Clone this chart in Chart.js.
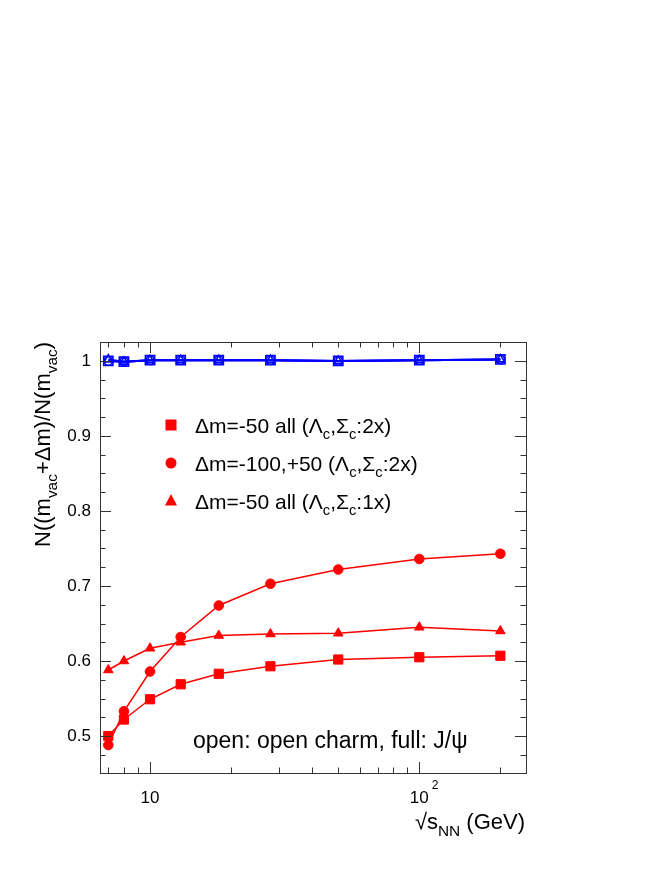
<!DOCTYPE html>
<html>
<head>
<meta charset="utf-8">
<script src="https://cdn.jsdelivr.net/npm/chart.js@4.4.1/dist/chart.umd.min.js"></script>
<style>
  html, body { margin: 0; padding: 0; background: #fff; }
  canvas { display: block; }
</style>
</head>
<body>
<canvas id="c" width="671" height="869"></canvas>
<script>
// beam energies (GeV)
const sqrtS = [7, 8, 10, 13, 18, 28, 50, 100, 200];

// J/psi (full markers, red)
const jpsiDm50 = [0.500, 0.522, 0.549, 0.569, 0.583, 0.593, 0.602, 0.605, 0.607];
const jpsiDm100 = [0.488, 0.533, 0.586, 0.632, 0.674, 0.703, 0.722, 0.736, 0.743];
const jpsiDm50x1 = [0.588, 0.600, 0.617, 0.625, 0.634, 0.636, 0.637, 0.645, 0.640];

// open charm (open markers, blue)
const openDm50 = [1.000, 0.999, 1.001, 1.001, 1.001, 1.001, 1.000, 1.001, 1.002];
const openDm100 = [1.000, 0.999, 1.001, 1.001, 1.001, 1.001, 1.000, 1.001, 1.002];
const openDm50x1 = [1.002, 0.999, 1.001, 1.001, 1.001, 1.001, 1.000, 1.001, 1.002];

const yTicks = [0.5, 0.6, 0.7, 0.8, 0.9, 1.0];
const xTicks = [10, 100];
const xMinor = [7, 8, 9, 20, 30, 40, 50, 60, 70, 80, 90, 200];

const FONT = "'Liberation Sans', Arial, Helvetica, sans-serif";
const RED = '#ff0000';
const BLUE = '#0000ff';

const pts = arr => arr.map((v, i) => ({ x: sqrtS[i], y: v }));

// text with sub/superscripts: parts = [[text, mode], ...]
function richWidth(ctx, parts, size) {
  let w = 0;
  parts.forEach(([t, m]) => {
    const s = m ? size * 0.7 : size;
    ctx.font = s + 'px ' + FONT;
    w += ctx.measureText(t).width;
  });
  return w;
}
function drawRich(ctx, parts, x, y, size) {
  parts.forEach(([t, m]) => {
    const s = m ? size * 0.7 : size;
    ctx.font = s + 'px ' + FONT;
    let dy = 0;
    if (m === 'sub') dy = size * 0.3;
    if (m === 'sup') dy = -size * 0.45;
    ctx.fillText(t, x, y + dy);
    x += ctx.measureText(t).width;
  });
}

const framePlugin = {
  id: 'frame',
  afterDraw(chart) {
    const ctx = chart.ctx;
    const a = chart.chartArea;
    const xs = chart.scales.x, ys = chart.scales.y;
    ctx.save();
    ctx.strokeStyle = '#333';
    ctx.lineWidth = 1;
    ctx.strokeRect(Math.round(a.left) + 0.5, Math.round(a.top) + 0.5,
      Math.round(a.right - a.left), Math.round(a.bottom - a.top));

    ctx.beginPath();
    // y ticks both sides
    for (let v = 0.45; v <= 1.0251; v += 0.025) {
      const val = Math.round(v * 1000) / 1000;
      if (val < ys.min || val > ys.max) continue;
      const py = Math.round(ys.getPixelForValue(val)) + 0.5;
      const major = yTicks.some(t => Math.abs(t - val) < 1e-6);
      const len = major ? 11 : 5.5;
      ctx.moveTo(a.left, py); ctx.lineTo(a.left + len, py);
      ctx.moveTo(a.right, py); ctx.lineTo(a.right - len, py);
    }
    // x ticks bottom and top
    xTicks.concat(xMinor).forEach(v => {
      const px = Math.round(xs.getPixelForValue(v)) + 0.5;
      const len = xTicks.includes(v) ? 11 : 5.5;
      ctx.moveTo(px, a.bottom); ctx.lineTo(px, a.bottom - len);
      ctx.moveTo(px, a.top); ctx.lineTo(px, a.top + len);
    });
    ctx.stroke();

    ctx.fillStyle = '#000';
    ctx.textBaseline = 'alphabetic';
    ctx.textAlign = 'left';
    // x tick labels
    xTicks.forEach(v => {
      const px = xs.getPixelForValue(v);
      ctx.font = '17px ' + FONT;
      if (v === 10) {
        ctx.textAlign = 'center';
        ctx.fillText('10', px, 803);
        ctx.textAlign = 'left';
      } else {
        const w = ctx.measureText('10').width;
        ctx.fillText('10', px - w / 2, 803);
        ctx.font = '12px ' + FONT;
        ctx.fillText('2', px + w / 2 + 3, 789);
      }
    });

    // x title
    const xt = [['\u221As', ''], ['NN', 'sub'], [' (GeV)', '']];
    const xw = richWidth(ctx, xt, 22);
    drawRich(ctx, xt, 525 - xw, 829, 22);

    // y title
    const yt = [['N((m', ''], ['vac', 'sub'], ['+\u0394m)/N(m', ''], ['vac', 'sub'], [')', '']];
    const yw = richWidth(ctx, yt, 22);
    ctx.save();
    ctx.translate(50, 342);
    ctx.rotate(-Math.PI / 2);
    drawRich(ctx, yt, -yw, 0, 22);
    ctx.restore();

    // legend
    const rows = [
      { style: 'rect', y: 425, parts: [['\u0394m=-50 all (\u039B', ''], ['c', 'sub'], [',\u03A3', ''], ['c', 'sub'], [':2x)', '']] },
      { style: 'circle', y: 463, parts: [['\u0394m=-100,+50 (\u039B', ''], ['c', 'sub'], [',\u03A3', ''], ['c', 'sub'], [':2x)', '']] },
      { style: 'triangle', y: 501, parts: [['\u0394m=-50 all (\u039B', ''], ['c', 'sub'], [',\u03A3', ''], ['c', 'sub'], [':1x)', '']] }
    ];
    rows.forEach(r => {
      ctx.fillStyle = RED;
      ctx.beginPath();
      if (r.style === 'rect') ctx.rect(171 - 5.5, r.y - 5.5, 11, 11);
      else if (r.style === 'circle') ctx.arc(171, r.y, 5.5, 0, Math.PI * 2);
      else { ctx.moveTo(171, r.y - 7); ctx.lineTo(177, r.y + 4.5); ctx.lineTo(165, r.y + 4.5); ctx.closePath(); }
      ctx.fill();
      ctx.fillStyle = '#000';
      drawRich(ctx, r.parts, 195, r.y + 8, 21);
    });

    // annotation
    ctx.font = '23px ' + FONT;
    ctx.fillText('open: open charm, full: J/\u03C8', 193, 748);
    ctx.restore();
  }
};

const ds = (data, style, color, radius, open, lw) => ({
  data: pts(data),
  showLine: true,
  borderColor: color,
  borderWidth: lw,
  pointStyle: style,
  pointRadius: radius,
  pointBorderColor: color,
  pointBackgroundColor: open ? 'rgba(0,0,0,0)' : color,
  pointBorderWidth: open ? 1.6 : 1,
  fill: false,
  tension: 0
});

new Chart(document.getElementById('c'), {
  type: 'scatter',
  data: {
    datasets: [
      ds(openDm50, 'rect', BLUE, 6.5, true, 2),
      ds(openDm100, 'circle', BLUE, 4.2, true, 2),
      ds(openDm50x1, 'triangle', BLUE, 4.8, true, 2),
      ds(jpsiDm50, 'rect', RED, 6.5, false, 1.5),
      ds(jpsiDm100, 'circle', RED, 4.8, false, 1.5),
      ds(jpsiDm50x1, 'triangle', RED, 5.5, false, 1.5)
    ]
  },
  options: {
    responsive: false,
    devicePixelRatio: 1,
    animation: false,
    events: [],
    layout: { padding: { left: 0, top: 342, right: 145, bottom: 0 } },
    plugins: { legend: { display: false }, tooltip: { enabled: false } },
    scales: {
      x: {
        type: 'logarithmic',
        min: 6.52,
        max: 249,
        grid: { display: false },
        border: { display: false },
        ticks: { display: false },
        afterFit: s => { s.height = 96; }
      },
      y: {
        type: 'linear',
        min: 0.4507,
        max: 1.0253,
        grid: { display: false, drawTicks: false },
        border: { display: false },
        afterBuildTicks: s => { s.ticks = yTicks.map(v => ({ value: v })); },
        ticks: {
          padding: 9,
          color: '#000',
          font: { size: 17, family: FONT },
          callback: v => (Math.abs(v - 1) < 1e-6 ? '1' : v.toFixed(1))
        },
        afterFit: s => { s.width = 100; }
      }
    }
  },
  plugins: [framePlugin]
});
</script>
</body>
</html>
